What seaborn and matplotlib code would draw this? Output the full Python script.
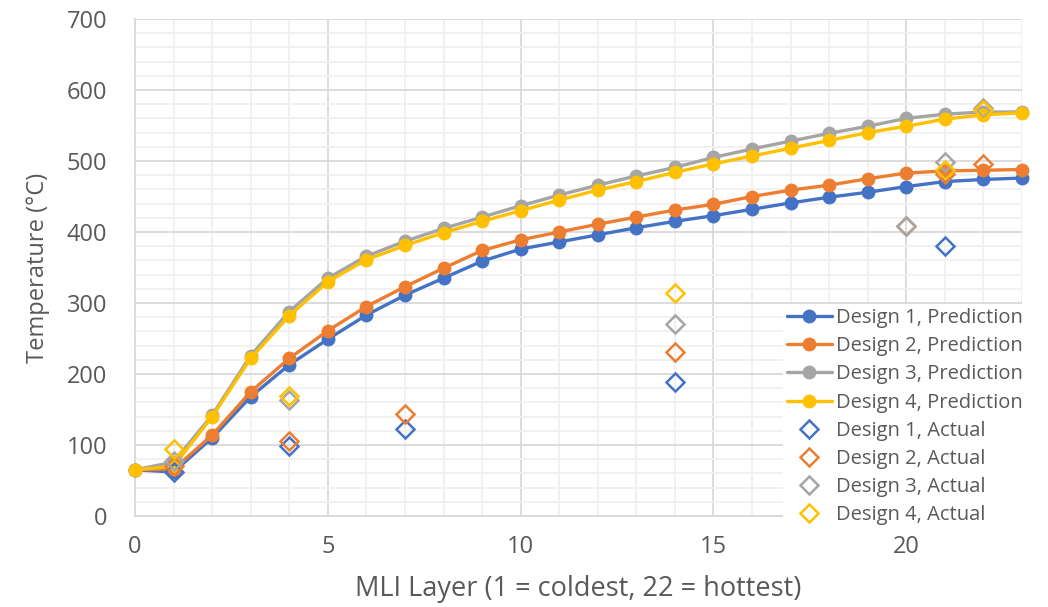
import numpy as np
import matplotlib
matplotlib.use("Agg")
import matplotlib.pyplot as plt
import seaborn as sns
from matplotlib.ticker import MultipleLocator

layers = list(range(0, 24))
design1_pred = [65, 62, 110, 168, 213, 249, 283, 311, 335, 359, 376, 386, 396, 406, 415, 423, 432, 441, 449, 456, 464, 471, 474, 476]
design2_pred = [65, 66, 114, 175, 222, 261, 295, 323, 349, 374, 389, 400, 411, 421, 431, 439, 450, 459, 466, 475, 483, 486, 487, 488]
design3_pred = [65, 76, 142, 226, 288, 335, 366, 387, 405, 421, 437, 452, 466, 479, 491, 505, 517, 528, 539, 549, 560, 566, 569, 569]
design4_pred = [65, 70, 140, 222, 282, 330, 361, 381, 399, 415, 430, 445, 459, 471, 484, 496, 507, 518, 529, 540, 549, 559, 565, 568]

actual_layers = [1, 4, 7, 14, 20, 21, 22]
design1_act = [62, 98, 122, 189, np.nan, 380, np.nan]
design2_act = [70, 105, 143, 231, 408, 481, 496]
design3_act = [77, 163, np.nan, 270, 409, 498, 575]
design4_act = [94, 169, np.nan, 314, np.nan, 487, 572]

names = ["Design 1", "Design 2", "Design 3", "Design 4"]
colors = ["#4472C4", "#ED7D31", "#A5A5A5", "#FFC000"]

sns.set_theme(style="white")
plt.rcParams['font.family'] = ['Open Sans', 'DejaVu Sans']

fig = plt.figure(figsize=(10.48, 6.07), dpi=100)
ax = fig.add_axes([0.1288, 0.1499, 0.9752 - 0.1288, 0.9687 - 0.1499])

preds = [design1_pred, design2_pred, design3_pred, design4_pred]
acts = [design1_act, design2_act, design3_act, design4_act]

for n, c, p in zip(names, colors, preds):
    sns.lineplot(x=layers, y=p, ax=ax, color=c, linewidth=2.4, marker='o',
                 markersize=10, markeredgewidth=0, label=f"{n}, Prediction",
                 clip_on=False, zorder=3)
for n, c, a in zip(names, colors, acts):
    sns.lineplot(x=actual_layers, y=a, ax=ax, color=c, linestyle='none', marker='D',
                 markersize=9, markerfacecolor='none', markeredgecolor=c,
                 markeredgewidth=1.8, label=f"{n}, Actual", clip_on=False, zorder=4)

ax.set_xlim(0, 23)
ax.set_ylim(0, 700)
ax.xaxis.set_major_locator(MultipleLocator(5))
ax.xaxis.set_minor_locator(MultipleLocator(1))
ax.yaxis.set_major_locator(MultipleLocator(100))
ax.yaxis.set_minor_locator(MultipleLocator(20))
ax.grid(which='major', color='#D9D9D9', linewidth=1.3, zorder=0)
ax.grid(which='minor', color='#F0F0F0', linewidth=1.3, zorder=0)
ax.set_axisbelow(True)
for s in ['top', 'right']:
    ax.spines[s].set_visible(False)
for s in ['left', 'bottom']:
    ax.spines[s].set_color('#D9D9D9')
    ax.spines[s].set_linewidth(1.3)

ax.tick_params(axis='both', which='both', length=0, labelsize=17, colors='#595959')
ax.tick_params(axis='y', pad=20)
ax.tick_params(axis='x', pad=14)
ax.set_xlabel("MLI Layer (1 = coldest, 22 = hottest)", fontsize=19.5, color='#595959', labelpad=11)
ax.set_ylabel("Temperature (°C)", fontsize=17, color='#595959', labelpad=12)

leg = ax.legend(loc='lower right', bbox_to_anchor=(1.0165, -0.046), fontsize=14.5, frameon=True,
                facecolor='white', edgecolor='none', framealpha=1, handlelength=2.2,
                labelspacing=0.4, borderpad=0.2, handletextpad=0.2)
for t in leg.get_texts():
    t.set_color('#595959')
leg.set_zorder(10)

fig.savefig("out.png", dpi=100)
